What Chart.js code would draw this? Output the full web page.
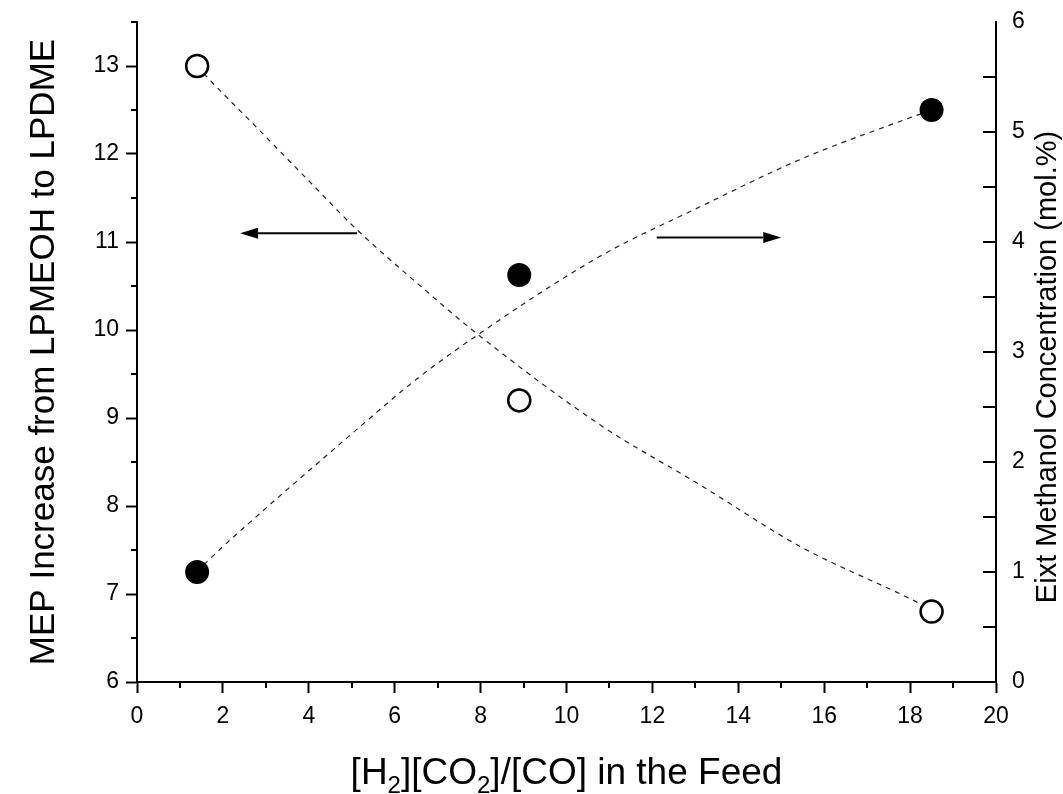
<!DOCTYPE html>
<html>
<head>
<meta charset="utf-8">
<script src="https://cdn.jsdelivr.net/npm/chart.js@4.4.1/dist/chart.umd.min.js"></script>
<style>
  html, body { margin: 0; padding: 0; background: #fff; }
</style>
</head>
<body>
<canvas id="grafica" width="1063" height="794"></canvas>
<script>
// measured points
const razonAlimentacion = [1.4, 8.9, 18.5];
const aumentoMEP = [13.0, 9.2, 6.8];          // left axis, open circles
const metanolSalida = [1.0, 3.7, 5.2];        // right axis, filled circles

// dashed trend lines
const tendMEPx = [1.4, 1.62, 2.79, 3.95, 5.12, 6.67, 7.91, 10.82, 13.11, 15.44, 18.07, 18.5];
const tendMEPy = [13.0, 12.88, 12.30, 11.72, 11.14, 10.47, 9.96, 8.91, 8.24, 7.54, 6.93, 6.82];
const tendMetx = [1.4, 1.62, 3.0, 4.18, 5.04, 6.5, 7.91, 10.78, 13.11, 15.44, 18.07, 18.5];
const tendMety = [1.0, 1.09, 1.58, 1.98, 2.27, 2.75, 3.15, 3.87, 4.32, 4.75, 5.14, 5.2];

// arrows: [x, y] start and tip
const flechaIzq = [[5.12, 11.1], [2.4, 11.1]];
const flechaDer = [[12.1, 4.04], [15.0, 4.04]];

const xTicks = [0, 2, 4, 6, 8, 10, 12, 14, 16, 18, 20];
const yTicks = [6, 7, 8, 9, 10, 11, 12, 13];
const y1Ticks = [0, 1, 2, 3, 4, 5, 6];

const tituloX = [["[H", false], ["2", true], ["][CO", false], ["2", true], ["]/[CO] in the Feed", false]];
const tituloY = "MEP Increase from LPMEOH to LPDME";
const tituloY1 = "Eixt Methanol Concentration (mol.%)";

const fuente = '"Liberation Sans", Arial, sans-serif';

const aPuntos = (xs, ys) => xs.map((x, i) => ({ x: x, y: ys[i] }));

// minor ticks on x and left axis (outside); right axis ticks point inward
const ticksExtra = {
  id: "ticksExtra",
  afterDraw(chart) {
    const { ctx, scales: { x, y, y1 }, chartArea: a } = chart;
    ctx.save();
    ctx.strokeStyle = "#000";
    ctx.lineWidth = 2;
    ctx.beginPath();
    for (let v = x.min + 1; v < x.max; v += 2) {
      const px = Math.round(x.getPixelForValue(v));
      ctx.moveTo(px, a.bottom);
      ctx.lineTo(px, a.bottom + 6);
    }
    for (let v = y.min + 0.5; v <= y.max; v += 1) {
      const py = Math.round(y.getPixelForValue(v));
      ctx.moveTo(a.left, py);
      ctx.lineTo(a.left - 6, py);
    }
    for (let v = y1.min + 0.5; v < y1.max; v += 0.5) {
      const py = Math.round(y1.getPixelForValue(v));
      ctx.moveTo(a.right, py);
      ctx.lineTo(a.right - 13, py);
    }
    ctx.stroke();
    ctx.restore();
  }
};

const dibujarFlecha = (ctx, x0, y0, x1, y1) => {
  const ang = Math.atan2(y1 - y0, x1 - x0);
  const largo = 18, ancho = 5.5;
  const bx = x1 - largo * Math.cos(ang), by = y1 - largo * Math.sin(ang);
  ctx.beginPath();
  ctx.moveTo(x0, y0);
  ctx.lineTo(bx, by);
  ctx.stroke();
  ctx.beginPath();
  ctx.moveTo(x1, y1);
  ctx.lineTo(bx + ancho * Math.sin(ang), by - ancho * Math.cos(ang));
  ctx.lineTo(bx - ancho * Math.sin(ang), by + ancho * Math.cos(ang));
  ctx.closePath();
  ctx.fill();
};

const flechas = {
  id: "flechas",
  afterDatasetsDraw(chart) {
    const { ctx, scales: { x, y, y1 } } = chart;
    ctx.save();
    ctx.strokeStyle = "#000";
    ctx.fillStyle = "#000";
    ctx.lineWidth = 2;
    dibujarFlecha(ctx,
      x.getPixelForValue(flechaIzq[0][0]), y.getPixelForValue(flechaIzq[0][1]),
      x.getPixelForValue(flechaIzq[1][0]), y.getPixelForValue(flechaIzq[1][1]));
    dibujarFlecha(ctx,
      x.getPixelForValue(flechaDer[0][0]), y1.getPixelForValue(flechaDer[0][1]),
      x.getPixelForValue(flechaDer[1][0]), y1.getPixelForValue(flechaDer[1][1]));
    ctx.restore();
  }
};

// axis titles (x title needs subscripts)
const titulos = {
  id: "titulos",
  afterDraw(chart) {
    const { ctx, chartArea: a } = chart;
    ctx.save();
    ctx.fillStyle = "#000";
    ctx.textBaseline = "alphabetic";

    const grande = `37px ${fuente}`, chico = `24px ${fuente}`;
    let total = 0;
    tituloX.forEach(([t, sub]) => {
      ctx.font = sub ? chico : grande;
      total += ctx.measureText(t).width;
    });
    let cx = (a.left + a.right) / 2 - total / 2;
    const base = 784;
    tituloX.forEach(([t, sub]) => {
      ctx.font = sub ? chico : grande;
      ctx.fillText(t, cx, sub ? base + 9 : base);
      cx += ctx.measureText(t).width;
    });

    const cy = (a.top + a.bottom) / 2;
    ctx.textAlign = "center";
    ctx.textBaseline = "middle";
    ctx.font = `35px ${fuente}`;
    ctx.save();
    ctx.translate(44, cy);
    ctx.rotate(-Math.PI / 2);
    ctx.fillText(tituloY, 0, 0);
    ctx.restore();

    ctx.font = `29px ${fuente}`;
    ctx.save();
    ctx.translate(1048, 367);
    ctx.rotate(-Math.PI / 2);
    ctx.fillText(tituloY1, 0, 0);
    ctx.restore();
    ctx.restore();
  }
};

const ejeComun = (lista, largo, relleno) => ({
  border: { color: "#000", width: 2 },
  grid: { display: true, drawOnChartArea: false, drawTicks: largo > 0, tickLength: largo, tickWidth: 2, tickColor: "#000" },
  ticks: { color: "#000", font: { family: fuente, size: 23 }, padding: relleno, autoSkip: false, maxRotation: 0 },
  afterBuildTicks: (s) => { s.ticks = lista.map(v => ({ value: v })); }
});

// fixed box sizes so the plot area lands where it should
const fijarCaja = (lado, medida) => (s) => {
  s[lado] = medida;
  s.paddingTop = 0;
  s.paddingBottom = 0;
  s.paddingLeft = 0;
  s.paddingRight = 0;
};

new Chart(document.getElementById("grafica"), {
  type: "scatter",
  data: {
    datasets: [
      {
        label: "MEP",
        data: aPuntos(razonAlimentacion, aumentoMEP),
        yAxisID: "y",
        pointRadius: 11,
        pointBorderWidth: 2.5,
        pointBorderColor: "#000",
        pointBackgroundColor: "#fff",
        order: 0
      },
      {
        label: "Metanol",
        data: aPuntos(razonAlimentacion, metanolSalida),
        yAxisID: "y1",
        pointRadius: 12,
        pointBorderWidth: 0,
        pointBorderColor: "#000",
        pointBackgroundColor: "#000",
        order: 0
      },
      {
        label: "tendencia MEP",
        data: aPuntos(tendMEPx, tendMEPy),
        yAxisID: "y",
        showLine: true,
        pointRadius: 0,
        borderColor: "#222",
        borderWidth: 1.2,
        borderDash: [5, 5],
        cubicInterpolationMode: "monotone",
        order: 1
      },
      {
        label: "tendencia metanol",
        data: aPuntos(tendMetx, tendMety),
        yAxisID: "y1",
        showLine: true,
        pointRadius: 0,
        borderColor: "#222",
        borderWidth: 1.2,
        borderDash: [5, 5],
        cubicInterpolationMode: "monotone",
        order: 1
      }
    ]
  },
  options: {
    responsive: false,
    animation: false,
    layout: { padding: { top: 22, left: 0, right: 0, bottom: 0 } },
    plugins: { legend: { display: false }, tooltip: { enabled: false } },
    scales: {
      x: {
        type: "linear", position: "bottom", min: 0, max: 20,
        ...ejeComun(xTicks, 11, 10),
        afterFit: fijarCaja("height", 112)
      },
      y: {
        type: "linear", position: "left", min: 6, max: 13.5,
        ...ejeComun(yTicks, 11, 7),
        afterFit: fijarCaja("width", 137)
      },
      y1: {
        type: "linear", position: "right", min: 0, max: 6,
        ...ejeComun(y1Ticks, 0, 16),
        afterFit: fijarCaja("width", 67)
      }
    }
  },
  plugins: [ticksExtra, flechas, titulos]
});
</script>
</body>
</html>
